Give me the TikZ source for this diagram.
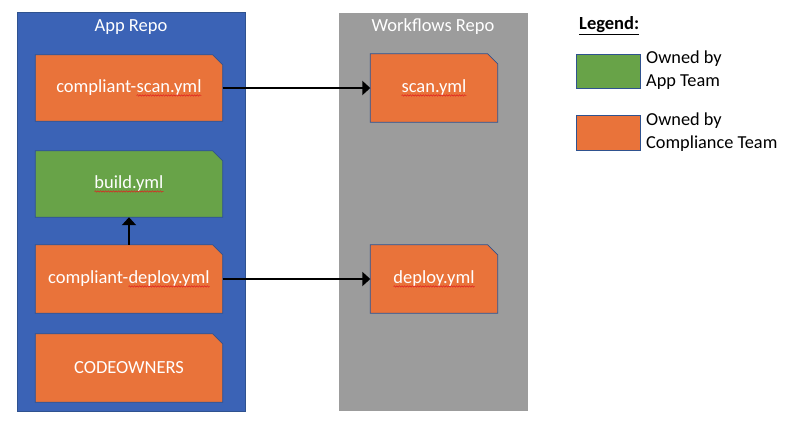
\documentclass[tikz,border=0pt]{standalone}
\usepackage{fontspec}
\setmainfont{Carlito}
\usetikzlibrary{arrows.meta,backgrounds,decorations.pathmorphing}
\definecolor{appblue}{HTML}{3B63B6}
\definecolor{bordblue}{HTML}{2F528F}
\definecolor{orangef}{HTML}{E9733A}
\definecolor{greenf}{HTML}{68A348}
\definecolor{grayf}{HTML}{9C9C9C}
\definecolor{waver}{HTML}{E02020}
\newcommand\redwave[1]{\tikz[baseline=(wt.base),x=1pt,y=1pt]{\node[inner sep=0pt,outer sep=0pt,minimum width=0pt,minimum height=0pt,draw=none,fill=none,anchor=base] (wt) at (0,0) {#1};
  \draw[waver,line width=0.5pt,decorate,decoration={snake,amplitude=0.7pt,segment length=2.6pt}]
    ([yshift=-3pt]wt.base west) -- ([yshift=-3pt]wt.base east);}}
\newcommand\snipfill[2]{%
  \begin{pgfonlayer}{background}
  \filldraw[fill=#2,draw=bordblue,line width=0.8pt]
    (#1.north west) -- ([xshift=-10pt]#1.north east) -- ([yshift=-10pt]#1.north east)
    -- (#1.south east) -- (#1.south west) -- cycle;
  \end{pgfonlayer}}
\tikzset{
  filebox/.style={minimum width=187pt,minimum height=66pt,inner sep=0pt,text=white,font=\fontsize{18.5}{22}\selectfont},
  wfbox/.style={filebox,minimum width=127pt,minimum height=68pt},
  title/.style={text=white,font=\fontsize{18.5}{22}\selectfont,inner sep=0pt},
  conn/.style={line width=2.6pt,-{Triangle[length=8pt,width=14pt]}},
  legtext/.style={align=left,anchor=west,inner sep=0pt,font=\fontsize{18.3}{23}\selectfont},
}
\begin{document}
\begin{tikzpicture}[x=1pt,y=-1pt]
\useasboundingbox (0,0) rectangle (787,424);
\begin{pgfonlayer}{background}
\filldraw[fill=appblue,draw=bordblue,line width=0.8pt] (17,12) rectangle (245,411);
\fill[grayf] (339,13) rectangle (528,411);
\end{pgfonlayer}
\node[title] (apptitle) at (131,27) {App Repo};
\node[title] (wftitle) at (433,27) {Workflows Repo};

\node[filebox] (cscan) at (129,88) {compliant-\redwave{scan.yml}};
\node[filebox] (build) at (129,184) {\redwave{build.yml}};
\node[filebox,minimum height=68pt] (cdeploy) at (129,279) {compliant-\redwave{deploy.yml}};
\node[filebox,minimum height=68pt] (codeowners) at (129,368) {CODEOWNERS};
\node[wfbox] (scan) at (434,88) {\redwave{scan.yml}};
\node[wfbox] (deploy) at (434,279) {\redwave{deploy.yml}};
\snipfill{cscan}{orangef}
\snipfill{build}{greenf}
\snipfill{cdeploy}{orangef}
\snipfill{codeowners}{orangef}
\snipfill{scan}{orangef}
\snipfill{deploy}{orangef}

\draw[conn] (cscan.east) -- (scan.west);
\draw[conn] (cdeploy.east) -- (deploy.west);
\draw[conn] (cdeploy.north) -- (build.south);

\node[anchor=west,inner sep=0pt,font=\fontsize{18.5}{22}\selectfont\bfseries] (legend) at (579,26) {\underline{Legend:}};
\node[draw=bordblue,fill=greenf,line width=0.8pt,minimum width=64pt,minimum height=34pt,inner sep=0pt] (lgreen) at (608,71) {};
\node[draw=bordblue,fill=orangef,line width=0.8pt,minimum width=64pt,minimum height=35pt,inner sep=0pt] (lorange) at (608,133) {};
\node[legtext] (lgtext) at (646,70) {Owned by\\App Team};
\node[legtext] (lotext) at (646,132) {Owned by\\Compliance Team};
\end{tikzpicture}
\end{document}
